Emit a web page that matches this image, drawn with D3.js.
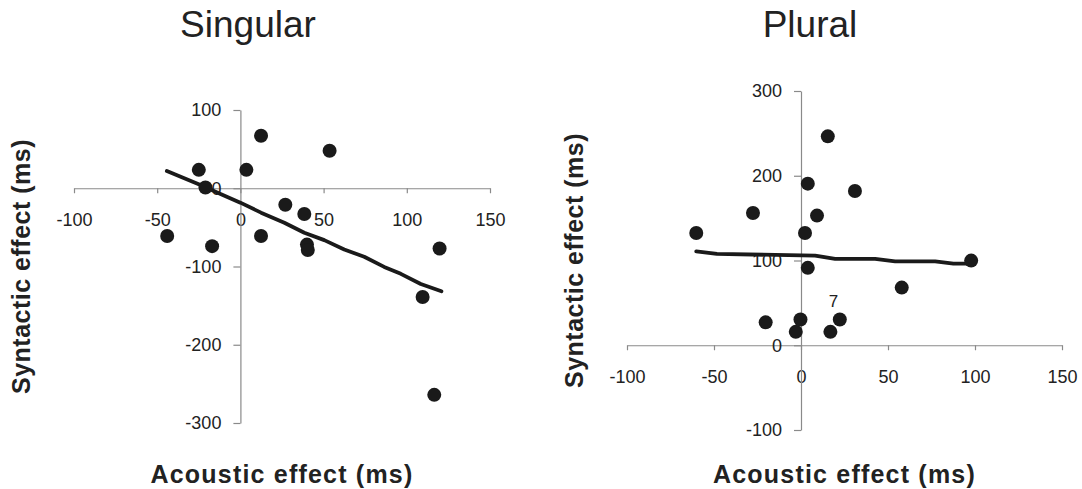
<!DOCTYPE html>
<html>
<head>
<meta charset="utf-8">
<script src="https://cdn.jsdelivr.net/npm/d3@7"></script>
<style>
  body { margin: 0; background: #fff; }
  svg { display: block; font-family: Arial, "Liberation Sans", sans-serif; }
  .tick text { fill: #222; font-size: 18px; }
  .domain, .tick line { stroke: #8a8a8a; stroke-width: 1.2; }
</style>
</head>
<body>
<script>
// tick values shared by both panels
const xTicks = [-100, -50, 0, 50, 100, 150];
const singularYTicks = [-300, -200, -100, 0, 100];
const pluralYTicks = [-100, 0, 100, 200, 300];

// Singular: acoustic effect (x) vs syntactic effect (y), ms
const singularX = [-44, -25, -21, -17, 3.6, 12.4, 12.4, 27, 38.4, 40, 40.5, 53.6, 109.5, 119.7, 116.5];
const singularY = [-61, 23.5, 1, -74, 23.5, 67, -61, -21, -33, -72, -79, 48, -139, -77, -264];
// smoothed fit line
const singularFitX = [-44.2, -23.6, -11.6, 0, 12.4, 26.4, 38.4, 50.4, 62.4, 74.4, 86.4, 96.4, 108.4, 120.8];
const singularFitY = [22, 3.8, -7.7, -18.4, -31.2, -44, -56.9, -66.3, -78.2, -87.6, -100.5, -109.4, -122.3, -131.7];

// Plural
const pluralX = [-60.2, -27.6, -20.3, -3, -0.3, 2.3, 3.9, 3.9, 9.2, 15.4, 16.9, 22.3, 31, 57.9, 97.8];
const pluralY = [132.5, 156, 27, 15.8, 30.3, 132.5, 190.7, 91.3, 153, 246.5, 15.8, 30.3, 182, 68, 99.9];
const pluralFitX = [-60.2, -48.3, 8.1, 19.6, 42.6, 54.1, 77.1, 87.6, 98.2];
const pluralFitY = [110.8, 107.7, 105.8, 102, 102, 99, 99, 96.3, 96.3];
const pluralNote = {x: 18.6, y: 52, text: '7'};

const svg = d3.select('body').append('svg')
    .attr('width', 1082)
    .attr('height', 489);

// plain hyphen for negatives, like the original
const fmt = d => String(d);

function drawPanel(opts) {
    const x = d3.scaleLinear().domain([-100, 150]).range(opts.xRange);
    const y = d3.scaleLinear().domain(opts.yDomain).range(opts.yRange);
    const g = svg.append('g');

    g.append('g')
        .attr('transform', `translate(0,${y(0)})`)
        .call(d3.axisBottom(x).tickValues(xTicks).tickFormat(fmt)
            .tickSize(5).tickSizeOuter(0).tickPadding(20));

    g.append('g')
        .attr('transform', `translate(${x(0)},0)`)
        .call(d3.axisLeft(y).tickValues(opts.yTicks).tickFormat(fmt)
            .tickSize(7).tickSizeOuter(0).tickPadding(12));

    const fit = opts.fitX.map((v, i) => [v, opts.fitY[i]]);
    g.append('path')
        .attr('d', d3.line().x(d => x(d[0])).y(d => y(d[1]))(fit))
        .attr('fill', 'none')
        .attr('stroke', '#1a1a1a')
        .attr('stroke-width', 3.8)
        .attr('stroke-linejoin', 'round')
        .attr('stroke-linecap', 'round');

    g.selectAll('circle.pt')
        .data(opts.px.map((v, i) => [v, opts.py[i]]))
        .join('circle')
        .attr('class', 'pt')
        .attr('cx', d => x(d[0]))
        .attr('cy', d => y(d[1]))
        .attr('r', 7)
        .attr('fill', '#1a1a1a');

    if (opts.note) {
        g.append('text')
            .attr('x', x(opts.note.x))
            .attr('y', y(opts.note.y))
            .attr('text-anchor', 'middle')
            .attr('dy', '0.35em')
            .attr('font-size', 17)
            .attr('fill', '#222')
            .text(opts.note.text);
    }

    const cx = (opts.xRange[0] + opts.xRange[1]) / 2;
    svg.append('text')
        .attr('x', opts.titleX)
        .attr('y', 37)
        .attr('text-anchor', 'middle')
        .attr('font-size', opts.titleSize)
        .attr('fill', '#222')
        .text(opts.title);

    svg.append('text')
        .attr('x', cx)
        .attr('y', 483)
        .attr('text-anchor', 'middle')
        .attr('font-size', 25)
        .attr('font-weight', 'bold')
        .attr('letter-spacing', 1.2)
        .attr('fill', '#222')
        .text('Acoustic effect (ms)');

    const cy = (opts.yRange[0] + opts.yRange[1]) / 2;
    svg.append('text')
        .attr('transform', `translate(${opts.yLabelX},${cy}) rotate(-90)`)
        .attr('text-anchor', 'middle')
        .attr('font-size', 25)
        .attr('font-weight', 'bold')
        .attr('letter-spacing', 0.5)
        .attr('fill', '#222')
        .text('Syntactic effect (ms)');
}

drawPanel({
    title: 'Singular', titleX: 248, titleSize: 37,
    xRange: [74, 490], yDomain: [-300, 100], yRange: [423, 110], yTicks: singularYTicks,
    px: singularX, py: singularY, fitX: singularFitX, fitY: singularFitY,
    yLabelX: 30
});

drawPanel({
    title: 'Plural', titleX: 810, titleSize: 37,
    xRange: [627, 1062], yDomain: [-100, 300], yRange: [430, 91], yTicks: pluralYTicks,
    px: pluralX, py: pluralY, fitX: pluralFitX, fitY: pluralFitY,
    note: pluralNote,
    yLabelX: 583
});
</script>
</body>
</html>
